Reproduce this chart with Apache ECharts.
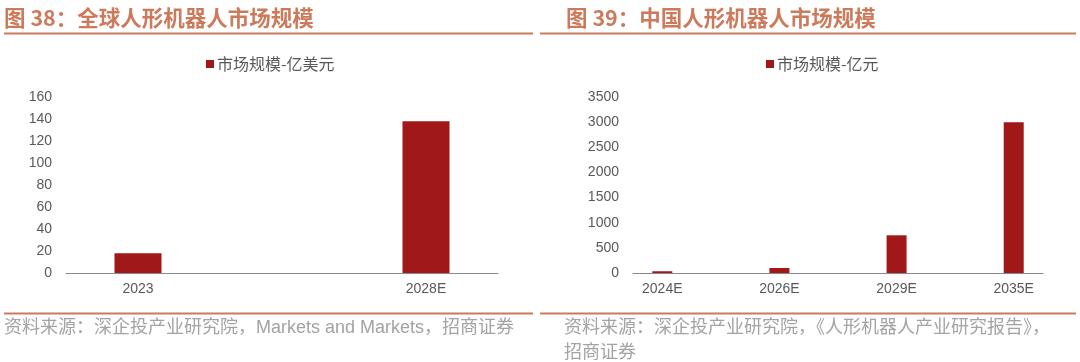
<!DOCTYPE html>
<html>
<head>
<meta charset="utf-8">
<script src="https://cdn.jsdelivr.net/npm/echarts@6/dist/echarts.min.js"></script>
<style>
html,body{margin:0;padding:0;background:#fff;}
#c{width:1080px;height:362px;}
</style>
</head>
<body>
<div id="c"></div>
<script>
// ---- data ----
const leftTitle = '图 38：全球人形机器人市场规模';
const rightTitle = '图 39：中国人形机器人市场规模';
const leftSeriesName = '市场规模-亿美元';
const rightSeriesName = '市场规模-亿元';
const leftCategories = ['2023', '', '2028E'];
const leftValues = [18, null, 138];
const rightCategories = ['2024E', '', '2026E', '', '2029E', '', '2035E'];
const rightValues = [35, null, 100, null, 750, null, 3000];
const leftYMax = 160, leftYStep = 20;
const rightYMax = 3500, rightYStep = 500;
const leftSource = '资料来源：深企投产业研究院，Markets and Markets，招商证券';
const rightSource1 = '资料来源：深企投产业研究院，《人形机器人产业研究报告》，';
const rightSource2 = '招商证券';

// ---- styles ----
const BAR = '#a01818';
const AXIS = '#8a8a8a';
const LABEL = '#595959';
const ACCENT = '#cc7a5b';
const SRC = '#a3a3a3';
const latin = '"Liberation Sans", "Noto Sans CJK SC", sans-serif';
const cjk = '"Noto Sans CJK SC", "Liberation Sans", sans-serif';

const chart = echarts.init(document.getElementById('c'), null, {renderer: 'canvas'});

function xAxisCfg(idx, cats) {
  return {
    type: 'category', gridIndex: idx, data: cats, boundaryGap: true,
    axisLine: {lineStyle: {color: AXIS, width: 1}},
    axisTick: {inside: true, length: 4, lineStyle: {color: AXIS}},
    axisLabel: {color: LABEL, fontSize: 14, fontFamily: latin, margin: 9, interval: 0}
  };
}
function yAxisCfg(idx, max, step) {
  return {
    type: 'value', gridIndex: idx, min: 0, max: max, interval: step,
    axisLine: {show: false}, axisTick: {show: false}, splitLine: {show: false},
    axisLabel: {color: LABEL, fontSize: 14, fontFamily: latin, margin: 14,
      formatter: function (v) { return String(v); }}
  };
}
function titleText(x, text) {
  return {type: 'text', left: x, top: 7, silent: true,
    style: {text: text, fill: ACCENT, font: 'bold 21.5px ' + cjk}};
}
function hline(x1, x2, y) {
  return {type: 'line', silent: true,
    shape: {x1: x1, y1: y, x2: x2, y2: y},
    style: {stroke: ACCENT, lineWidth: 2}};
}
function srcText(x, y, text) {
  return {type: 'text', left: x, top: y, silent: true,
    style: {text: text, fill: SRC, font: '18px ' + latin}};
}

chart.setOption({
  animation: false,
  backgroundColor: '#fff',
  grid: [
    {left: 66, width: 432, top: 97, height: 176},
    {left: 633, width: 410, top: 97, height: 176}
  ],
  legend: [
    {data: [leftSeriesName], left: 201, top: 51, icon: 'rect', itemWidth: 8, itemHeight: 8, itemGap: 4,
      textStyle: {color: LABEL, fontSize: 16, fontFamily: cjk, padding: [0, 0, 0, -2]}},
    {data: [rightSeriesName], left: 761, top: 51, icon: 'rect', itemWidth: 8, itemHeight: 8, itemGap: 4,
      textStyle: {color: LABEL, fontSize: 16, fontFamily: cjk, padding: [0, 0, 0, -2]}}
  ],
  xAxis: [xAxisCfg(0, leftCategories), xAxisCfg(1, rightCategories)],
  yAxis: [yAxisCfg(0, leftYMax, leftYStep), yAxisCfg(1, rightYMax, rightYStep)],
  series: [
    {name: leftSeriesName, type: 'bar', xAxisIndex: 0, yAxisIndex: 0, data: leftValues,
      barWidth: 47, itemStyle: {color: BAR}},
    {name: rightSeriesName, type: 'bar', xAxisIndex: 1, yAxisIndex: 1, data: rightValues,
      barWidth: 20, itemStyle: {color: BAR}}
  ],
  graphic: [
    titleText(4, leftTitle),
    titleText(566, rightTitle),
    hline(4, 533, 33.5),
    hline(540, 1076, 33.5),
    hline(4, 533, 313.5),
    hline(540, 1076, 313.5),
    srcText(4, 319, leftSource),
    srcText(564, 319, rightSource1),
    srcText(564, 344, rightSource2)
  ]
});
</script>
</body>
</html>
